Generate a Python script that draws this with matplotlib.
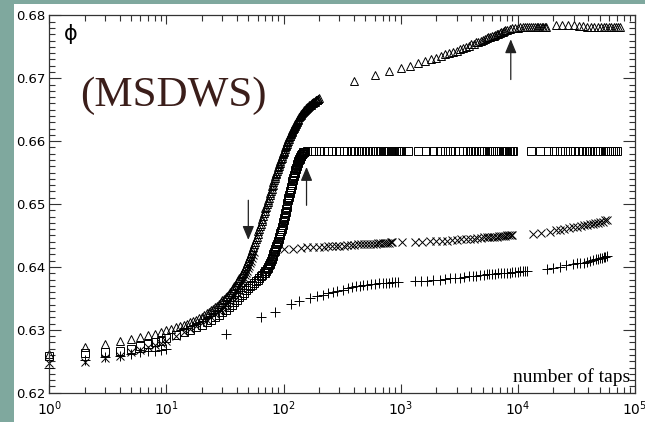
import matplotlib
matplotlib.use("Agg")
import matplotlib.pyplot as plt
from matplotlib.patches import Rectangle
from matplotlib.ticker import LogLocator, MultipleLocator, FormatStrFormatter, NullFormatter

# triangles: every tap up to 130, every other tap to 200, coarse afterwards
tri_x = [1, 2, 3, 4, 5, 6, 7, 8, 9, 10,
         11, 12, 13, 14, 15, 16, 17, 18, 19, 20,
         21, 22, 23, 24, 25, 26, 27, 28, 29, 30,
         31, 32, 33, 34, 35, 36, 37, 38, 39, 40,
         41, 42, 43, 44, 45, 46, 47, 48, 49, 50,
         51, 52, 53, 54, 55, 56, 57, 58, 59, 60,
         61, 62, 63, 64, 65, 66, 67, 68, 69, 70,
         71, 72, 73, 74, 75, 76, 77, 78, 79, 80,
         81, 82, 83, 84, 85, 86, 87, 88, 89, 90,
         91, 92, 93, 94, 95, 96, 97, 98, 99, 100,
         101, 102, 103, 104, 105, 106, 107, 108, 109, 110,
         111, 112, 113, 114, 115, 116, 117, 118, 119, 120,
         121, 122, 123, 124, 125, 126, 127, 128, 129, 130,
         132, 134, 136, 138, 140, 142, 144, 146, 148, 150,
         152, 154, 156, 158, 160, 162, 164, 166, 168, 170,
         172, 174, 176, 178, 180, 182, 184, 186, 188, 190,
         192, 194, 196, 198, 200,
         400, 600, 800, 1000, 1200, 1400, 1600, 1800, 2000, 2200, 2400, 2600, 2800, 3000, 3200,
         3400, 3600, 3800, 4000, 4200, 4400, 4600, 4800, 5000, 5200, 5400, 5600, 5800, 6000, 6200,
         6400, 6600, 6800, 7000, 7200, 7400, 7600, 7800, 8000,
         8500, 9000, 9500, 10000, 10500, 11000, 11500, 12000, 12500, 13000, 13500, 14000, 14500,
         15000, 15500, 16000, 16500, 17000, 17500,
         21000, 24000, 27000, 30000, 33000, 36000, 39000, 42000, 45000, 48000, 51000, 54000,
         57000, 60000, 63000, 66000, 69000, 72000, 75000]
tri_y = [0.6262, 0.6273, 0.6278, 0.6282, 0.6285, 0.6288, 0.6291, 0.6294, 0.6297, 0.6300,
         0.6302, 0.6304, 0.6306, 0.6308, 0.6310, 0.6312, 0.6314, 0.6316, 0.6318, 0.6321,
         0.6323, 0.6326, 0.6328, 0.6331, 0.6333, 0.6336, 0.6338, 0.6341, 0.6344, 0.6347,
         0.6349, 0.6352, 0.6354, 0.6357, 0.6360, 0.6363, 0.6366, 0.6369, 0.6372, 0.6376,
         0.6379, 0.6382, 0.6385, 0.6388, 0.6391, 0.6395, 0.6398, 0.6402, 0.6406, 0.6410,
         0.6414, 0.6418, 0.6422, 0.6427, 0.6431, 0.6436, 0.6440, 0.6444, 0.6448, 0.6453,
         0.6457, 0.6461, 0.6465, 0.6469, 0.6473, 0.6477, 0.6481, 0.6485, 0.6489, 0.6493,
         0.6496, 0.6500, 0.6503, 0.6507, 0.6510, 0.6514, 0.6517, 0.6521, 0.6524, 0.6528,
         0.6531, 0.6535, 0.6538, 0.6541, 0.6544, 0.6547, 0.6550, 0.6553, 0.6556, 0.6559,
         0.6561, 0.6564, 0.6566, 0.6569, 0.6571, 0.6574, 0.6576, 0.6579, 0.6581, 0.6583,
         0.6585, 0.6588, 0.6590, 0.6592, 0.6594, 0.6596, 0.6598, 0.6599, 0.6601, 0.6603,
         0.6604, 0.6606, 0.6608, 0.6609, 0.6611, 0.6613, 0.6614, 0.6616, 0.6617, 0.6619,
         0.6620, 0.6621, 0.6623, 0.6624, 0.6625, 0.6627, 0.6628, 0.6629, 0.6631, 0.6632,
         0.6634, 0.6636, 0.6638, 0.6640, 0.6642, 0.6643, 0.6645, 0.6646, 0.6648, 0.6649,
         0.6650, 0.6651, 0.6652, 0.6653, 0.6654, 0.6655, 0.6656, 0.6657, 0.6657, 0.6658,
         0.6659, 0.6660, 0.6660, 0.6661, 0.6662, 0.6663, 0.6663, 0.6664, 0.6665, 0.6665,
         0.6666, 0.6666, 0.6667, 0.6667, 0.6668,
         0.6696, 0.6705, 0.6711, 0.6716, 0.6720, 0.6724, 0.6727, 0.6730, 0.6733, 0.6736,
         0.6738, 0.6740, 0.6742, 0.6744, 0.6746, 0.6748, 0.6750, 0.6752, 0.6754, 0.6755,
         0.6757, 0.6758, 0.6760, 0.6761, 0.6762, 0.6764, 0.6765, 0.6766, 0.6767, 0.6768,
         0.6769, 0.6770, 0.6771, 0.6772, 0.6773, 0.6774, 0.6775, 0.6776, 0.6777,
         0.6779, 0.6780, 0.6780, 0.6780, 0.6781, 0.6781, 0.6781, 0.6781, 0.6781, 0.6782,
         0.6782, 0.6782, 0.6782, 0.6782, 0.6782, 0.6782, 0.6782, 0.6782, 0.6782,
         0.6784, 0.6784, 0.6784, 0.6784, 0.6783, 0.6783, 0.6782, 0.6782, 0.6782, 0.6782,
         0.6782, 0.6782, 0.6782, 0.6782, 0.6782, 0.6782, 0.6782, 0.6782, 0.6782]

# squares
sq_x = [1, 2, 3, 4, 5, 6, 7, 8, 9, 10,
        12, 14, 16, 18, 20, 22, 24, 26, 28, 30,
        32, 34, 36, 38, 40, 42, 44, 46, 48, 50,
        52, 54, 56, 58, 60, 62, 64, 66, 68,
        69, 70, 71, 72, 73, 74, 75, 76, 77, 78,
        79, 80, 81, 82, 83, 84, 85, 86, 87, 88,
        89, 90, 91, 92, 93, 94, 95, 96, 97, 98,
        99, 100, 101, 102, 103, 104, 105, 106, 107, 108,
        109, 110, 111, 112, 113, 114, 115, 116, 117, 118,
        119, 120, 121, 122, 123, 124, 125, 126, 127, 128,
        129, 130, 131, 132, 133, 134, 135, 136, 137, 138,
        139, 140, 141, 142, 143, 144, 145, 146, 147, 148,
        149, 150,
        160, 180, 200, 220, 240, 260, 280, 300, 325, 350, 375, 400, 430, 460, 490, 520,
        550, 580, 610, 640, 670, 700, 730, 760, 790, 820, 850, 880, 910, 940, 970, 1000,
        1150, 1400, 1650, 1900, 2150, 2400, 2650, 2900, 3150, 3400, 3650, 3900, 4150, 4400,
        4650, 4900, 5150, 5400, 5650, 5900, 6150, 6400, 6650, 6900, 7150, 7400, 7650, 7900,
        8150, 8400, 8650, 8900, 9150,
        13000, 15500, 18000, 20500, 23000, 25500, 28000, 30500, 33000, 35500, 38000, 40500,
        43000, 45500, 48000, 50500, 53000, 55500, 58000, 60500, 63000, 65500, 68000, 70500]
sq_y = [0.6258, 0.6263, 0.6264, 0.6267, 0.6270, 0.6274, 0.6277, 0.6280, 0.6283, 0.6287,
        0.6292, 0.6296, 0.6300, 0.6304, 0.6308, 0.6312, 0.6316, 0.6320, 0.6324, 0.6328,
        0.6332, 0.6336, 0.6340, 0.6344, 0.6348, 0.6352, 0.6356, 0.6359, 0.6363, 0.6366,
        0.6369, 0.6372, 0.6375, 0.6377, 0.6380, 0.6382, 0.6385, 0.6387, 0.6390,
        0.6391, 0.6393, 0.6394, 0.6396, 0.6398, 0.6400, 0.6403, 0.6405, 0.6407, 0.6410,
        0.6412, 0.6415, 0.6417, 0.6420, 0.6423, 0.6425, 0.6428, 0.6431, 0.6433, 0.6436,
        0.6439, 0.6442, 0.6445, 0.6448, 0.6451, 0.6454, 0.6457, 0.6461, 0.6464, 0.6467,
        0.6471, 0.6474, 0.6478, 0.6481, 0.6485, 0.6488, 0.6492, 0.6495, 0.6499, 0.6502,
        0.6506, 0.6509, 0.6512, 0.6515, 0.6518, 0.6521, 0.6524, 0.6527, 0.6530, 0.6533,
        0.6536, 0.6539, 0.6541, 0.6544, 0.6546, 0.6549, 0.6551, 0.6554, 0.6556, 0.6558,
        0.6560, 0.6562, 0.6564, 0.6565, 0.6567, 0.6568, 0.6570, 0.6571, 0.6572, 0.6574,
        0.6575, 0.6576, 0.6577, 0.6578, 0.6579, 0.6580, 0.6580, 0.6581, 0.6582, 0.6582,
        0.6583, 0.6583,
        0.6584, 0.6584, 0.6584, 0.6584, 0.6584, 0.6585, 0.6585, 0.6585, 0.6585, 0.6585,
        0.6585, 0.6585, 0.6585, 0.6585, 0.6585, 0.6585, 0.6585, 0.6585, 0.6585, 0.6585,
        0.6585, 0.6585, 0.6585, 0.6585, 0.6585, 0.6585, 0.6585, 0.6585, 0.6585, 0.6585,
        0.6585, 0.6585,
        0.6585, 0.6585, 0.6585, 0.6585, 0.6585, 0.6585, 0.6585, 0.6585, 0.6585, 0.6585,
        0.6585, 0.6585, 0.6585, 0.6585, 0.6585, 0.6585, 0.6585, 0.6585, 0.6585, 0.6585,
        0.6585, 0.6585, 0.6585, 0.6585, 0.6585, 0.6585, 0.6585, 0.6585, 0.6585, 0.6585,
        0.6585, 0.6585, 0.6585,
        0.6585, 0.6585, 0.6585, 0.6585, 0.6585, 0.6585, 0.6585, 0.6585, 0.6585, 0.6585,
        0.6585, 0.6585, 0.6585, 0.6585, 0.6585, 0.6585, 0.6585, 0.6585, 0.6585, 0.6585,
        0.6585, 0.6585, 0.6585, 0.6585]

# crosses
cr_x = [1, 2, 3, 4, 5, 6, 7, 8, 9, 10,
        12, 14, 16, 18, 20, 22, 24, 26, 28,
        29, 30, 31, 32, 33, 34, 35, 36, 37, 38,
        39, 40, 41, 42, 43, 44, 45, 46, 47, 48,
        49, 50, 51, 52, 53, 54, 55, 56,
        100, 120, 140, 160, 180, 200, 220, 240, 260, 280, 300, 325, 350, 375, 400,
        430, 460, 490, 520, 550, 580, 610, 640, 670, 700, 730, 760, 790, 820, 850,
        1020, 1320, 1510, 1770, 2000, 2250, 2500, 2750, 3000, 3300, 3600, 3900, 4200, 4500,
        4800, 5100, 5400, 5700, 6000, 6300, 6600, 6900, 7200, 7500, 7800, 8100, 8400, 8700, 9000,
        13500, 15900, 18800, 21000, 22900, 25000, 27500, 29800, 32000, 34500, 36500, 38700,
        41000, 43500, 46000, 48500, 50600, 53000, 55000, 57300]
cr_y = [0.6247, 0.6249, 0.6255, 0.6259, 0.6264, 0.6268, 0.6272, 0.6276, 0.6279, 0.6283,
        0.6290, 0.6296, 0.6301, 0.6306, 0.6311, 0.6316, 0.6320, 0.6325, 0.6330,
        0.6332, 0.6335, 0.6338, 0.6340, 0.6343, 0.6346, 0.6349, 0.6351, 0.6354, 0.6357,
        0.6360, 0.6363, 0.6366, 0.6369, 0.6372, 0.6376, 0.6379, 0.6383, 0.6387, 0.6390,
        0.6394, 0.6398, 0.6402, 0.6406, 0.6410, 0.6414, 0.6419, 0.6423,
        0.6428, 0.6428, 0.6430, 0.6431, 0.6431, 0.6432, 0.6432, 0.6433, 0.6433, 0.6434,
        0.6434, 0.6434, 0.6435, 0.6435, 0.6435, 0.6436, 0.6436, 0.6436, 0.6437, 0.6437,
        0.6437, 0.6437, 0.6438, 0.6438, 0.6438, 0.6438, 0.6438, 0.6438, 0.6439, 0.6439,
        0.6439, 0.6440, 0.6440, 0.6441, 0.6441, 0.6442, 0.6442, 0.6443, 0.6443, 0.6444,
        0.6444, 0.6445, 0.6445, 0.6446, 0.6446, 0.6447, 0.6447, 0.6447, 0.6448, 0.6448,
        0.6448, 0.6449, 0.6449, 0.6449, 0.6449, 0.6450, 0.6450, 0.6450, 0.6450,
        0.6453, 0.6454, 0.6456, 0.6458, 0.6459, 0.6460, 0.6462, 0.6463, 0.6464, 0.6465,
        0.6466, 0.6467, 0.6468, 0.6469, 0.6470, 0.6470, 0.6471, 0.6472, 0.6474, 0.6475]

# pluses
pl_x = [1, 2, 3, 4, 5, 6, 7, 8, 9, 10,
        32, 64, 84, 116, 136, 168, 192, 216, 240, 264, 288, 320, 352, 384, 416, 448,
        480, 512, 560, 608, 656, 704, 752, 800, 848, 896, 944,
        1320, 1500, 1660, 1900, 2160, 2400, 2650, 2900, 3200, 3500, 3800, 4100, 4400, 4750,
        5100, 5400, 5700, 6000, 6400, 6800, 7200, 7600, 8000, 8500, 9000, 9500, 10000,
        10500, 11000, 11500, 12000,
        17600, 20000, 22900, 26000, 29800, 32000, 34000, 36500, 38700, 41000, 44000,
        46500, 48500, 50600, 52500, 54000, 55800, 57300]
pl_y = [0.6240, 0.6252, 0.6256, 0.6258, 0.6262, 0.6265, 0.6266, 0.6267, 0.6268, 0.6269,
        0.6293, 0.6321, 0.6329, 0.6341, 0.6346, 0.6351, 0.6354, 0.6356, 0.6358, 0.6360,
        0.6362, 0.6364, 0.6366, 0.6368, 0.6369, 0.6370, 0.6371, 0.6372, 0.6373, 0.6373,
        0.6374, 0.6374, 0.6375, 0.6375, 0.6376, 0.6376, 0.6376,
        0.6377, 0.6378, 0.6378, 0.6379, 0.6380, 0.6381, 0.6382, 0.6382, 0.6383, 0.6384,
        0.6385, 0.6385, 0.6386, 0.6387, 0.6387, 0.6388, 0.6388, 0.6389, 0.6389, 0.6390,
        0.6390, 0.6391, 0.6391, 0.6391, 0.6392, 0.6392, 0.6392, 0.6393, 0.6393, 0.6393,
        0.6393,
        0.6396, 0.6398, 0.6400, 0.6403, 0.6405, 0.6406, 0.6407, 0.6407, 0.6408, 0.6409,
        0.6411, 0.6412, 0.6413, 0.6414, 0.6415, 0.6416, 0.6416, 0.6417]

# arrows: (taps, tail value, tip value)
arrows = [(50, 0.6506, 0.6443), (157, 0.6498, 0.6559), (8700, 0.6698, 0.6762)]

x_ticks = [1, 10, 100, 1000, 10000, 100000]
y_ticks = [0.62, 0.63, 0.64, 0.65, 0.66, 0.67, 0.68]

W, H = 645, 422
fig = plt.figure(figsize=(W / 100, H / 100), dpi=100, facecolor="#7fa89e")
# white panel behind the axes, leaving a thin border on the left and top
fig.patches.append(Rectangle((14 / W, 0), 1, (H - 4) / H, transform=fig.transFigure,
                             facecolor="white", edgecolor="none", zorder=-10))
ax = fig.add_axes([49.3 / W, (H - 392.7) / H, 585.7 / W, 377.3 / H])
ax.set_facecolor("white")

mkw = dict(linestyle="none", color="black", markerfacecolor="none", markeredgewidth=0.7,
           clip_on=False)
ax.plot(tri_x, tri_y, marker="^", markersize=6, **mkw)
ax.plot(sq_x, sq_y, marker="s", markersize=5.5, **mkw)
ax.plot(cr_x, cr_y, marker="x", markersize=6, **mkw)
ax.plot(pl_x, pl_y, marker="+", markersize=6.5, **mkw)

for ax_x, y_tail, y_tip in arrows:
    ax.annotate("", xy=(ax_x, y_tip), xytext=(ax_x, y_tail),
                arrowprops=dict(arrowstyle="-|>,head_length=0.6,head_width=0.25",
                                mutation_scale=14, lw=0.9, color="#222222",
                                shrinkA=0, shrinkB=0))

ax.set_xscale("log")
ax.set_xlim(1, 1e5)
ax.set_ylim(0.62, 0.68)
ax.set_xticks(x_ticks)
ax.xaxis.set_minor_locator(LogLocator(base=10, subs=range(2, 10), numticks=20))
ax.xaxis.set_minor_formatter(NullFormatter())
ax.set_yticks(y_ticks)
ax.yaxis.set_minor_locator(MultipleLocator(0.001))
ax.yaxis.set_major_formatter(FormatStrFormatter("%.2f"))

for side in ax.spines.values():
    side.set_color("#333333")
    side.set_linewidth(0.9)
ax.tick_params(which="both", direction="in", top=True, right=True, colors="#333333",
               labelcolor="black", labelsize=9.5, width=0.8)
ax.tick_params(axis="x", which="major", length=6.5, pad=5, labelsize=10)
ax.tick_params(axis="x", which="minor", length=4)
ax.tick_params(axis="y", which="major", length=8.5, pad=3)
ax.tick_params(axis="y", which="minor", length=4.5)

ax.text(0.037, 0.951, "\u03d5", transform=ax.transAxes, fontsize=15,
        ha="center", va="center", color="black")
ax.text(0.052, 0.760, "(MSDWS)", transform=ax.transAxes, fontsize=31,
        family="Liberation Serif", color="#3b1e1a", ha="left", va="baseline")
ax.text(0.9915, 0.028, "number of taps", transform=ax.transAxes, fontsize=14,
        family="Liberation Serif", color="black", ha="right", va="baseline")

fig.savefig("out.png", dpi=100, facecolor=fig.get_facecolor())
